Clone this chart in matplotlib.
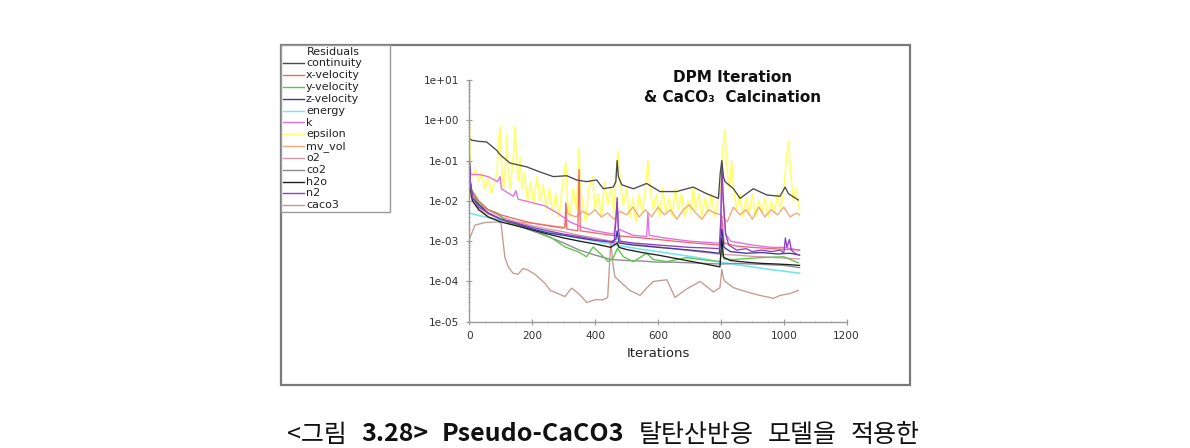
import matplotlib
matplotlib.use("Agg")
import matplotlib.pyplot as plt
from matplotlib.lines import Line2D
from matplotlib.patches import Rectangle
from matplotlib.ticker import LogLocator, MultipleLocator, NullFormatter

# ---------------- data ----------------
series_names = ["continuity", "x-velocity", "y-velocity", "z-velocity", "energy", "k",
                "epsilon", "mv_vol", "o2", "co2", "h2o", "n2", "caco3"]

continuity_it = [0, 8, 30, 55, 87, 98, 129, 182, 225, 267, 310, 341, 373, 405, 426, 458, 466, 470, 474,
                 485, 522, 564, 606, 659, 712, 755, 792, 798, 803, 808, 813, 840, 861, 903, 946, 988,
                 1004, 1015, 1046]
continuity_v = [0.35, 0.32, 0.30, 0.29, 0.18, 0.14, 0.087, 0.07, 0.052, 0.04, 0.042, 0.033, 0.03, 0.033,
                0.02, 0.022, 0.03, 0.1, 0.04, 0.025, 0.02, 0.027, 0.017, 0.017, 0.022, 0.015, 0.0115,
                0.05, 0.1, 0.04, 0.03, 0.02, 0.0115, 0.02, 0.014, 0.013, 0.022, 0.015, 0.0105]

xvel_it = [0, 5, 30, 60, 100, 150, 200, 250, 300, 304, 307, 310, 345, 349, 353, 400, 450, 500, 550, 600,
           650, 700, 750, 797, 803, 810, 850, 900, 950, 1000, 1050]
xvel_v = [0.05, 0.02, 0.01, 0.006, 0.0045, 0.0035, 0.0028, 0.0024, 0.0021, 0.0022, 0.009, 0.002, 0.0018,
          0.06, 0.0018, 0.0016, 0.0014, 0.0013, 0.0012, 0.0011, 0.001, 0.00092, 0.00085, 0.0008, 0.004,
          0.0009, 0.00075, 0.0007, 0.00066, 0.00063, 0.0006]

yvel_it = [0, 3, 10, 30, 60, 90, 124, 177, 219, 262, 304, 347, 373, 394, 415, 442, 458, 471, 490, 522,
           564, 585, 628, 691, 734, 797, 803, 810, 840, 925, 999, 1046]
yvel_v = [0.1, 0.03, 0.015, 0.009, 0.006, 0.0049, 0.0028, 0.0023, 0.0017, 0.0012, 0.00072, 0.00054,
          0.00041, 0.00072, 0.0005, 0.00031, 0.00039, 0.00067, 0.00041, 0.00031, 0.0005, 0.00035,
          0.00031, 0.00039, 0.00035, 0.00031, 0.0006, 0.00036, 0.00035, 0.00039, 0.00041, 0.00029]

zvel_it = [0, 3, 10, 30, 60, 100, 150, 200, 250, 300, 350, 400, 450, 466, 470, 476, 520, 560, 600, 650,
           700, 750, 795, 803, 810, 830, 880, 930, 980, 1020, 1050]
zvel_v = [0.15, 0.03, 0.012, 0.008, 0.005, 0.0035, 0.0027, 0.002, 0.0016, 0.0014, 0.0012, 0.00105,
          0.00095, 0.0011, 0.0018, 0.0009, 0.0008, 0.00075, 0.0007, 0.00065, 0.0006, 0.00055, 0.0005,
          0.002, 0.0007, 0.00055, 0.0005, 0.00052, 0.00048, 0.0005, 0.00045]

energy_it = [0, 20, 50, 100, 150, 200, 250, 300, 350, 400, 450, 500, 550, 600, 650, 700, 750, 800, 850,
             900, 950, 1000, 1050]
energy_v = [0.005, 0.0045, 0.004, 0.0033, 0.0027, 0.0021, 0.0017, 0.0014, 0.0012, 0.001, 0.00085,
            0.00072, 0.00062, 0.00055, 0.00048, 0.00042, 0.00036, 0.0003, 0.00026, 0.00023, 0.0002,
            0.00018, 0.00016]

k_it = [0, 5, 30, 60, 90, 98, 102, 140, 148, 155, 200, 240, 280, 320, 360, 400, 460, 466, 470, 474, 520,
        564, 568, 572, 620, 700, 780, 798, 803, 808, 815, 830, 900, 960, 1000, 1050]
k_v = [0.08, 0.045, 0.045, 0.04, 0.03, 0.04, 0.02, 0.013, 0.018, 0.011, 0.009, 0.0075, 0.005, 0.003,
       0.0022, 0.0018, 0.0015, 0.004, 0.009, 0.002, 0.0014, 0.0013, 0.005, 0.0014, 0.0012, 0.001, 0.0009,
       0.0009, 0.03, 0.008, 0.0015, 0.001, 0.0008, 0.0007, 0.0007, 0.0006]

eps_it = [0, 3, 10, 20, 30, 40, 50, 60, 70, 80, 88, 93, 98, 104, 110, 116, 119, 123, 130, 138, 143, 146,
          150, 156, 162, 168, 175, 185, 195, 205, 215, 225, 235, 245, 255, 265, 275, 285, 295, 302, 307,
          312, 320, 330, 340, 346, 349, 352, 360, 370, 380, 392, 400, 410, 420, 430, 440, 450, 460, 466,
          473, 480, 490, 500, 510, 520, 530, 540, 550, 560, 568, 575, 585, 595, 605, 615, 625, 635, 645,
          655, 665, 675, 685, 695, 705, 712, 720, 730, 740, 750, 760, 770, 780, 790, 800, 806, 813, 820,
          827, 834, 840, 850, 860, 870, 880, 890, 900, 910, 920, 930, 940, 950, 960, 970, 980, 990, 1000,
          1008, 1015, 1022, 1030, 1040, 1050]
eps_v = [1.0, 0.08, 0.04, 0.06, 0.03, 0.05, 0.02, 0.04, 0.015, 0.03, 0.05, 0.3, 0.7, 0.05, 0.02, 0.1,
         0.45, 0.06, 0.02, 0.08, 0.3, 0.7, 0.1, 0.03, 0.12, 0.02, 0.05, 0.01, 0.03, 0.008, 0.04, 0.01,
         0.025, 0.006, 0.02, 0.005, 0.015, 0.004, 0.02, 0.05, 0.09, 0.01, 0.004, 0.02, 0.006, 0.05, 0.2,
         0.03, 0.008, 0.003, 0.02, 0.04, 0.006, 0.015, 0.004, 0.03, 0.008, 0.02, 0.005, 0.04, 0.17, 0.03,
         0.008, 0.02, 0.004, 0.012, 0.003, 0.015, 0.005, 0.02, 0.1, 0.02, 0.006, 0.015, 0.004, 0.02,
         0.005, 0.012, 0.004, 0.02, 0.006, 0.015, 0.004, 0.01, 0.005, 0.022, 0.006, 0.015, 0.004, 0.012,
         0.005, 0.015, 0.004, 0.01, 0.02, 0.2, 0.6, 0.05, 0.02, 0.1, 0.02, 0.006, 0.015, 0.004, 0.012,
         0.005, 0.015, 0.004, 0.01, 0.005, 0.012, 0.004, 0.01, 0.005, 0.015, 0.006, 0.02, 0.1, 0.3, 0.05,
         0.01, 0.02, 0.006]

mv_it = [0, 20, 50, 100, 150, 200, 250, 300, 305, 308, 312, 320, 340, 360, 380, 400, 420, 440, 460, 480,
         500, 520, 540, 560, 580, 600, 620, 640, 660, 680, 700, 720, 740, 760, 780, 800, 820, 840, 860,
         880, 900, 920, 940, 960, 980, 1000, 1020, 1040, 1050]
mv_v = [0.015, 0.008, 0.005, 0.0035, 0.003, 0.0028, 0.0025, 0.0022, 0.0023, 0.008, 0.005, 0.0045,
        0.004, 0.0055, 0.0045, 0.006, 0.004, 0.005, 0.0035, 0.0055, 0.0045, 0.007, 0.004, 0.006, 0.004,
        0.007, 0.0045, 0.006, 0.0035, 0.006, 0.008, 0.005, 0.0035, 0.006, 0.005, 0.0045, 0.003, 0.007,
        0.0045, 0.006, 0.0035, 0.007, 0.004, 0.006, 0.0045, 0.007, 0.004, 0.005, 0.0045]

o2_it = [0, 5, 30, 60, 100, 150, 200, 250, 300, 350, 400, 450, 500, 550, 600, 650, 700, 750, 800, 850,
         900, 950, 1000, 1050]
o2_v = [0.05, 0.015, 0.008, 0.006, 0.004, 0.003, 0.0024, 0.002, 0.0017, 0.0014, 0.0012, 0.001, 0.0009,
        0.0008, 0.00072, 0.00065, 0.00058, 0.00052, 0.00047, 0.00045, 0.00042, 0.0004, 0.00038, 0.00036]

co2_it = [0, 5, 30, 60, 100, 150, 200, 250, 300, 350, 400, 450, 500, 550, 600, 650, 700, 750, 800, 850,
          900, 950, 1000, 1050]
co2_v = [0.08, 0.02, 0.008, 0.005, 0.0035, 0.0025, 0.0018, 0.0013, 0.0009, 0.0006, 0.00045, 0.00035,
         0.00033, 0.00032, 0.0003, 0.0003, 0.00029, 0.00028, 0.00027, 0.00028, 0.00027, 0.00026,
         0.00025, 0.00022]

h2o_it = [0, 3, 10, 30, 60, 100, 150, 200, 250, 300, 350, 400, 450, 470, 476, 500, 550, 600, 650, 700,
          750, 797, 803, 808, 830, 880, 930, 980, 1020, 1050]
h2o_v = [0.1, 0.02, 0.01, 0.006, 0.004, 0.003, 0.0024, 0.0019, 0.0015, 0.0012, 0.001, 0.00085, 0.0007,
         0.0009, 0.0007, 0.00062, 0.00052, 0.00045, 0.00038, 0.00032, 0.00027, 0.00023, 0.0012, 0.0004,
         0.00033, 0.0003, 0.00028, 0.00027, 0.00026, 0.00025]

n2_it = [0, 3, 10, 30, 60, 100, 150, 200, 250, 300, 350, 400, 440, 460, 466, 470, 474, 480, 520, 560,
         600, 650, 700, 750, 795, 800, 803, 808, 815, 825, 850, 880, 900, 930, 960, 990, 1000, 1005,
         1010, 1018, 1024, 1035, 1050]
n2_v = [0.12, 0.03, 0.012, 0.007, 0.005, 0.0035, 0.0028, 0.0022, 0.0018, 0.0015, 0.0013, 0.0011, 0.001,
        0.0009, 0.003, 0.012, 0.002, 0.001, 0.0009, 0.00085, 0.0008, 0.00075, 0.0007, 0.00068, 0.00065,
        0.004, 0.08, 0.01, 0.0015, 0.0008, 0.0006, 0.00065, 0.00055, 0.0006, 0.00055, 0.0006, 0.0005,
        0.0012, 0.0007, 0.0011, 0.0006, 0.0005, 0.00045]

caco3_it = [0, 2, 18, 50, 91, 101, 108, 113, 124, 139, 155, 171, 187, 209, 241, 257, 282, 304, 325, 341,
            357, 373, 400, 426, 440, 445, 450, 456, 463, 479, 510, 543, 565, 585, 628, 654, 691, 734,
            776, 797, 803, 808, 813, 840, 882, 924, 967, 988, 1020, 1046]
caco3_v = [0.0012, 0.0012, 0.0025, 0.0029, 0.003, 0.0028, 0.0009, 0.0004, 0.00023, 0.00016, 0.00015,
           0.00021, 0.00019, 0.00015, 0.000089, 0.00006, 0.00005, 0.000042, 0.000068, 0.000055,
           0.000042, 0.00003, 0.000035, 0.000035, 0.00004, 0.0002, 0.001, 0.0003, 0.00013, 0.0001,
           0.00006, 0.000045, 0.00007, 0.0001, 0.00011, 0.00004, 0.000065, 0.0001, 0.000055, 0.00007,
           0.0002, 0.00012, 0.0001, 0.00007, 0.000055, 0.000045, 0.000038, 0.000045, 0.00005, 0.00006]

x_ticks = [0, 200, 400, 600, 800, 1000, 1200]
y_ticks = [1e-5, 1e-4, 1e-3, 1e-2, 1e-1, 1e0, 1e1]
y_ticklabels = ["1e-05", "1e-04", "1e-03", "1e-02", "1e-01", "1e+00", "1e+01"]

title_lines = ["DPM Iteration", "& CaCO\u2083  Calcination"]
caption_parts = ["<그림", "3.28>", "Pseudo-CaCO3", "탈탄산반응", "모델을", "적용한"]

# ---------------- styling ----------------
colors = {
    "continuity": "#4a4a4a", "x-velocity": "#f06868", "y-velocity": "#5cc44a",
    "z-velocity": "#3a3a98", "energy": "#78e4f2", "k": "#e070e0", "epsilon": "#ffff70",
    "mv_vol": "#f2a878", "o2": "#d898a8", "co2": "#8a8a8a", "h2o": "#1e1e1e",
    "n2": "#9040c8", "caco3": "#c49a90",
}
data = {
    "continuity": (continuity_it, continuity_v), "x-velocity": (xvel_it, xvel_v),
    "y-velocity": (yvel_it, yvel_v), "z-velocity": (zvel_it, zvel_v),
    "energy": (energy_it, energy_v), "k": (k_it, k_v), "epsilon": (eps_it, eps_v),
    "mv_vol": (mv_it, mv_v), "o2": (o2_it, o2_v), "co2": (co2_it, co2_v),
    "h2o": (h2o_it, h2o_v), "n2": (n2_it, n2_v), "caco3": (caco3_it, caco3_v),
}
draw_order = ["epsilon", "mv_vol", "energy", "caco3", "o2", "co2", "y-velocity", "x-velocity",
              "k", "h2o", "z-velocity", "n2", "continuity"]

W, H = 1190, 448
fig = plt.figure(figsize=(W / 100, H / 100), dpi=100)
fig.patch.set_facecolor("white")

def fx(px):
    return px / W

def fy(py):
    return 1 - py / H

# outer frame
fig.patches.append(Rectangle((fx(281), fy(385)), fx(910) - fx(281), fy(45) - fy(385),
                             transform=fig.transFigure, fill=False, edgecolor="#7a7a7a", lw=1.6))

ax = fig.add_axes([fx(469.3), fy(321.7), fx(846.7) - fx(469.3), fy(80) - fy(321.7)])
for name in draw_order:
    it, v = data[name]
    lw = 1.2 if name in ("epsilon", "energy") else 0.95
    ax.plot(it, v, color=colors[name], lw=lw, solid_joinstyle="round")

ax.set_yscale("log")
ax.set_ylim(1e-5, 1e1)
ax.set_xlim(0, 1200)
ax.set_xticks(x_ticks)
ax.set_xticklabels([str(t) for t in x_ticks])
ax.xaxis.set_minor_locator(MultipleLocator(50))
ax.set_yticks(y_ticks)
ax.set_yticklabels(y_ticklabels)
ax.yaxis.set_minor_locator(LogLocator(base=10, subs=(2, 3, 4, 5, 6, 7, 8, 9), numticks=20))
ax.yaxis.set_minor_formatter(NullFormatter())
for s in ("top", "right"):
    ax.spines[s].set_visible(False)
for s in ("left", "bottom"):
    ax.spines[s].set_color("#9a9a9a")
    ax.spines[s].set_linewidth(1.0)
ax.tick_params(which="major", length=4, width=0.8, color="#9a9a9a", labelsize=7.6,
               labelcolor="#333333", direction="inout")
ax.tick_params(which="minor", length=2, width=0.6, color="#aaaaaa", direction="inout")
ax.tick_params(axis="y", pad=5)
ax.tick_params(axis="x", pad=5)
ax.set_facecolor("none")
ax.set_xlabel("Iterations", fontsize=9.5, color="#222222", labelpad=4)

# title
fig.text(fx(733), fy(77), title_lines[0], ha="center", va="center", fontsize=11,
         fontweight="bold", color="#111111")
fig.text(fx(733), fy(98), title_lines[1], ha="center", va="center", fontsize=11,
         fontweight="bold", color="#111111")

# legend box
fig.patches.append(Rectangle((fx(281), fy(212)), fx(390) - fx(281), fy(45) - fy(212),
                             transform=fig.transFigure, fill=True, facecolor="white",
                             edgecolor="#9a9a9a", lw=1.0, zorder=3))
fig.text(fx(307), fy(52), "Residuals", ha="left", va="center", fontsize=8, color="#222222",
         zorder=4)
for i, name in enumerate(series_names):
    yy = fy(63.5 + i * 11.8)
    fig.lines.append(Line2D([fx(283), fx(304)], [yy, yy], transform=fig.transFigure,
                            color=colors[name], lw=1.0, zorder=4))
    fig.text(fx(306), yy, name, ha="left", va="center", fontsize=8, color="#222222", zorder=4)

# caption at the bottom edge: words laid out one after another with a fixed gap
renderer = fig.canvas.get_renderer()
caption_bold = [False, True, True, False, False, False]
cursor = 287.0
gap = 14.0
for part, bold in zip(caption_parts, caption_bold):
    t = fig.text(fx(cursor), fy(422), part, ha="left", va="top", fontsize=18,
                 fontweight="bold" if bold else "normal",
                 family=["Noto Sans CJK KR", "DejaVu Sans"], color="#111111")
    w = t.get_window_extent(renderer=renderer).width
    cursor += w + gap

fig.savefig("out.png", dpi=100)
